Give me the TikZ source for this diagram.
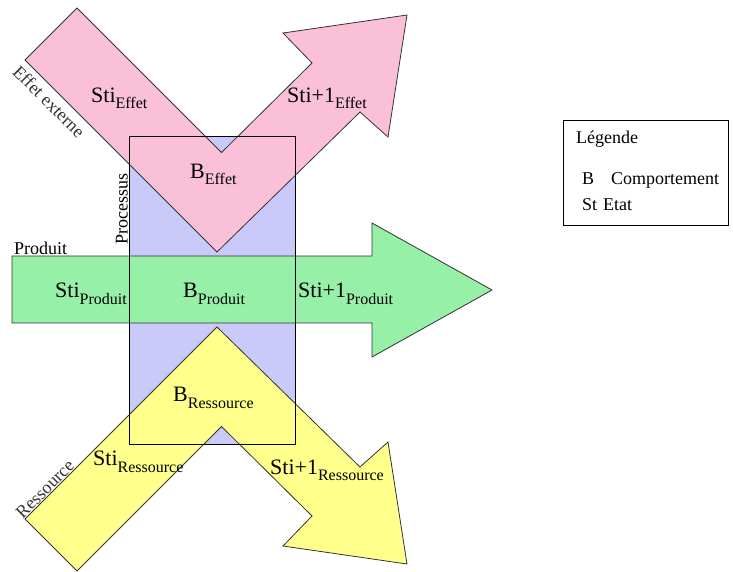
\documentclass[tikz,border=0pt]{standalone}
\usepackage{fontspec}
\setmainfont{Liberation Serif}
\definecolor{pinkA}{RGB}{249,192,216}
\definecolor{greenA}{RGB}{150,240,168}
\definecolor{lavA}{RGB}{202,202,250}
\definecolor{yellowA}{RGB}{255,255,140}
\newcommand\lowsub[1]{\raisebox{-6.5pt}{\fontsize{16}{16}\selectfont #1}}
\begin{document}
\begin{tikzpicture}[x=1pt,y=-1pt,
  arrowshape/.style={draw=black!80, line width=0.8pt, line join=miter},
  biglabel/.style={font=\fontsize{22}{26}\selectfont, inner sep=0pt, anchor=base west},
  smalllabel/.style={font=\fontsize{18}{22}\selectfont, inner sep=0pt},
  procbox/.style={minimum width=166pt, minimum height=308pt, inner sep=0pt}]
\useasboundingbox (0,0) rectangle (733,571);
% process box fill
\node[procbox, fill=lavA] (procfill) at (212,290) {};
% pink arrow
\draw[arrowshape, fill=pinkA] (77,8) -- (221.5,152.5) -- (312,63) -- (283,33) -- (407,15)
  -- (388,137) -- (360,112) -- (217,252) -- (25,60) -- cycle;
% green arrow
\draw[arrowshape, fill=greenA] (12,256) -- (372,256) -- (372,223) -- (492,290)
  -- (372,357) -- (372,323) -- (12,323) -- cycle;
% yellow arrow
\draw[arrowshape, fill=yellowA] (77,571) -- (221.5,426.5) -- (312,516) -- (283,546) -- (407,564)
  -- (388,442) -- (360,467) -- (217,327) -- (25,519) -- cycle;
% process box border
\node[procbox, draw=black, line width=1pt] (proc) at (212,290) {};
% labels
\node[biglabel] (stie) at (91,102) {Sti\lowsub{Effet}};
\node[biglabel] (stie1) at (287,102) {Sti+1\lowsub{Effet}};
\node[biglabel] (be) at (190,178) {B\lowsub{Effet}};
\node[biglabel] (stip) at (55,297.5) {Sti\lowsub{Produit}};
\node[biglabel] (bp) at (183,297.5) {B\lowsub{Produit}};
\node[biglabel] (stip1) at (298,297.5) {Sti+1\lowsub{Produit}};
\node[biglabel] (br) at (173,401.5) {B\lowsub{Ressource}};
\node[biglabel] (stir) at (93,465.5) {Sti\lowsub{Ressource}};
\node[biglabel] (stir1) at (270,474) {Sti+1\lowsub{Ressource}};
\node[smalllabel, anchor=base west] (produit) at (14,254.5) {Produit};
\node[smalllabel, anchor=base west, rotate=90] (processus) at (127.5,245) {Processus};
\node[smalllabel, rotate=-45, text=black!80] (effext) at (49,101.5) {Effet externe};
\node[smalllabel, rotate=45, text=black!80] (ress) at (45,489) {Ressource};
% legend
\node[draw=black, line width=1pt, minimum width=165pt, minimum height=105pt, inner sep=0pt] (legend) at (645.5,172.5) {};
\node[smalllabel, anchor=base west] (legt) at (576,143) {Légende};
\node[smalllabel, anchor=base west] (legb) at (582,184) {B};
\node[smalllabel, anchor=base west] (legbc) at (611,184) {Comportement};
\node[smalllabel, anchor=base west] (legst) at (582,210) {St};
\node[smalllabel, anchor=base west] (legste) at (603,210) {Etat};
\end{tikzpicture}
\end{document}
